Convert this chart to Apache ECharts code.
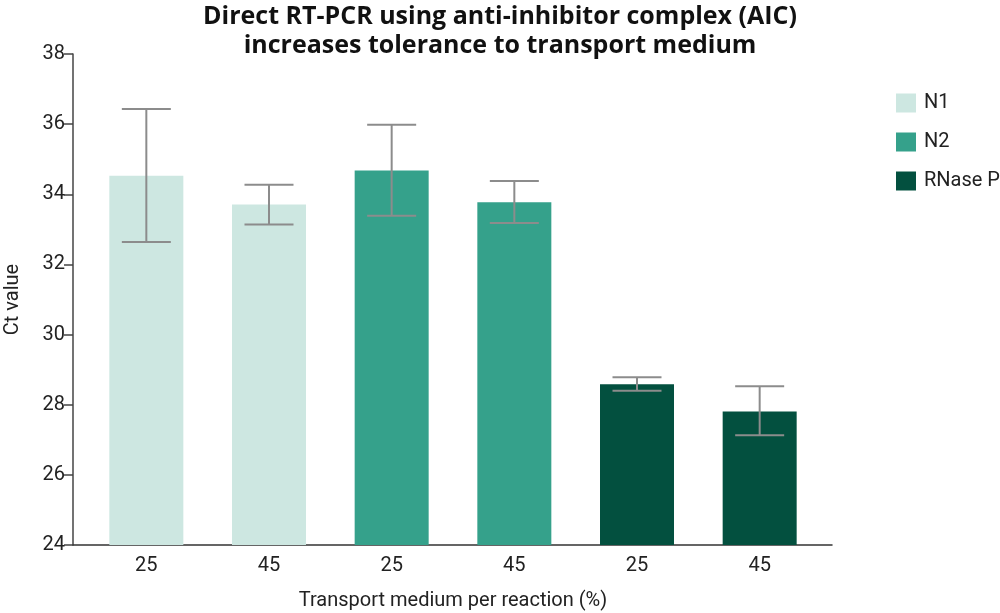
<!DOCTYPE html>
<html>
<head>
<meta charset="utf-8">
<script src="https://cdn.jsdelivr.net/npm/echarts@6/dist/echarts.min.js"></script>
<style>html,body{margin:0;padding:0;background:#fff}#c{width:1000px;height:613px}</style>
</head>
<body>
<div id="c"></div>
<script>
const categories = ['25', '45', '25', '45', '25', '45'];
const seriesNames = ['N1', 'N2', 'RNase P'];
const n1Values = [34.53, 33.71];
const n2Values = [34.68, 33.77];
const rnasePValues = [28.58, 27.81];
const errLow = [32.64, 33.14, 33.39, 33.18, 28.40, 27.13];
const errHigh = [36.43, 34.27, 35.98, 34.38, 28.78, 28.53];
const yTicks = { min: 24, max: 38, interval: 2 };
const colors = ['#cde7e1', '#35a18b', '#03503f'];

const groups = [n1Values, n2Values, rnasePValues];
const font = 'Roboto, "Liberation Sans", sans-serif';
const titleFont = '"Open Sans", Roboto, sans-serif';

const barSeries = groups.map((vals, g) => {
  const data = categories.map(() => '-');
  vals.forEach((v, i) => { data[g * 2 + i] = v; });
  return {
    name: seriesNames[g], type: 'bar', xAxisIndex: 0, yAxisIndex: 0,
    data, barWidth: 74, barGap: '-100%',
    itemStyle: { color: colors[g] }
  };
});

const errData = categories.map((c, i) => [i, errLow[i], errHigh[i]]);

const chart = echarts.init(document.getElementById('c'));
chart.setOption({
  animation: false,
  title: {
    text: 'Direct RT-PCR using anti-inhibitor complex (AIC)\nincreases tolerance to transport medium',
    left: 'center', top: -3,
    textStyle: { fontFamily: titleFont, fontWeight: 'bold', fontSize: 25, lineHeight: 29, color: '#111', align: 'center' }
  },
  legend: {
    orient: 'vertical', left: 891, top: 88,
    itemWidth: 20, itemHeight: 19, itemGap: 19,
    icon: 'rect',
    data: seriesNames,
    textStyle: { fontFamily: font, fontSize: 20, color: '#222', padding: [0, 0, 0, 3] }
  },
  grid: [
    { left: 85, right: 179, top: 54, bottom: 68, outerBoundsMode: 'none' },
    { left: 73, right: 168, top: 54, bottom: 68, outerBoundsMode: 'none' }
  ],
  xAxis: [
    {
      type: 'category', gridIndex: 0, data: categories,
      axisLine: { show: false }, axisTick: { show: false },
      axisLabel: { fontFamily: font, fontSize: 20, color: '#222', margin: 11 },
      name: 'Transport medium per reaction (%)', nameLocation: 'middle', nameGap: 46,
      nameTextStyle: { fontFamily: font, fontSize: 20, color: '#222' }
    },
    {
      type: 'value', gridIndex: 1, min: 0, max: 1,
      axisLine: { show: true, lineStyle: { color: '#333', width: 1.5 } },
      axisTick: { show: false }, axisLabel: { show: false }, splitLine: { show: false }
    }
  ],
  yAxis: [
    {
      type: 'value', gridIndex: 0, min: yTicks.min, max: yTicks.max, interval: yTicks.interval,
      show: false, splitLine: { show: false }
    },
    {
      type: 'value', gridIndex: 1, min: yTicks.min, max: yTicks.max, interval: yTicks.interval,
      axisLine: { show: true, lineStyle: { color: '#444', width: 1.5 } },
      axisTick: { show: true, length: 9, lineStyle: { color: '#444', width: 1.5 } },
      axisLabel: { fontFamily: font, fontSize: 20, color: '#222', margin: 8 },
      splitLine: { show: false },
      name: 'Ct value', nameLocation: 'middle', nameGap: 50, nameRotate: 90,
      nameTextStyle: { fontFamily: font, fontSize: 20, color: '#222' }
    }
  ],
  series: [
    ...barSeries,
    {
      type: 'custom', xAxisIndex: 0, yAxisIndex: 0, z: 10,
      data: errData,
      renderItem: function (params, api) {
        const x = api.value(0);
        const lo = api.coord([x, api.value(1)]);
        const hi = api.coord([x, api.value(2)]);
        const hw = 24.5;
        const style = { stroke: '#8c8c8c', lineWidth: 2 };
        return {
          type: 'group',
          children: [
            { type: 'line', shape: { x1: hi[0], y1: hi[1], x2: lo[0], y2: lo[1] }, style },
            { type: 'line', shape: { x1: hi[0] - hw, y1: hi[1], x2: hi[0] + hw, y2: hi[1] }, style },
            { type: 'line', shape: { x1: lo[0] - hw, y1: lo[1], x2: lo[0] + hw, y2: lo[1] }, style }
          ]
        };
      }
    }
  ]
});
</script>
</body>
</html>
